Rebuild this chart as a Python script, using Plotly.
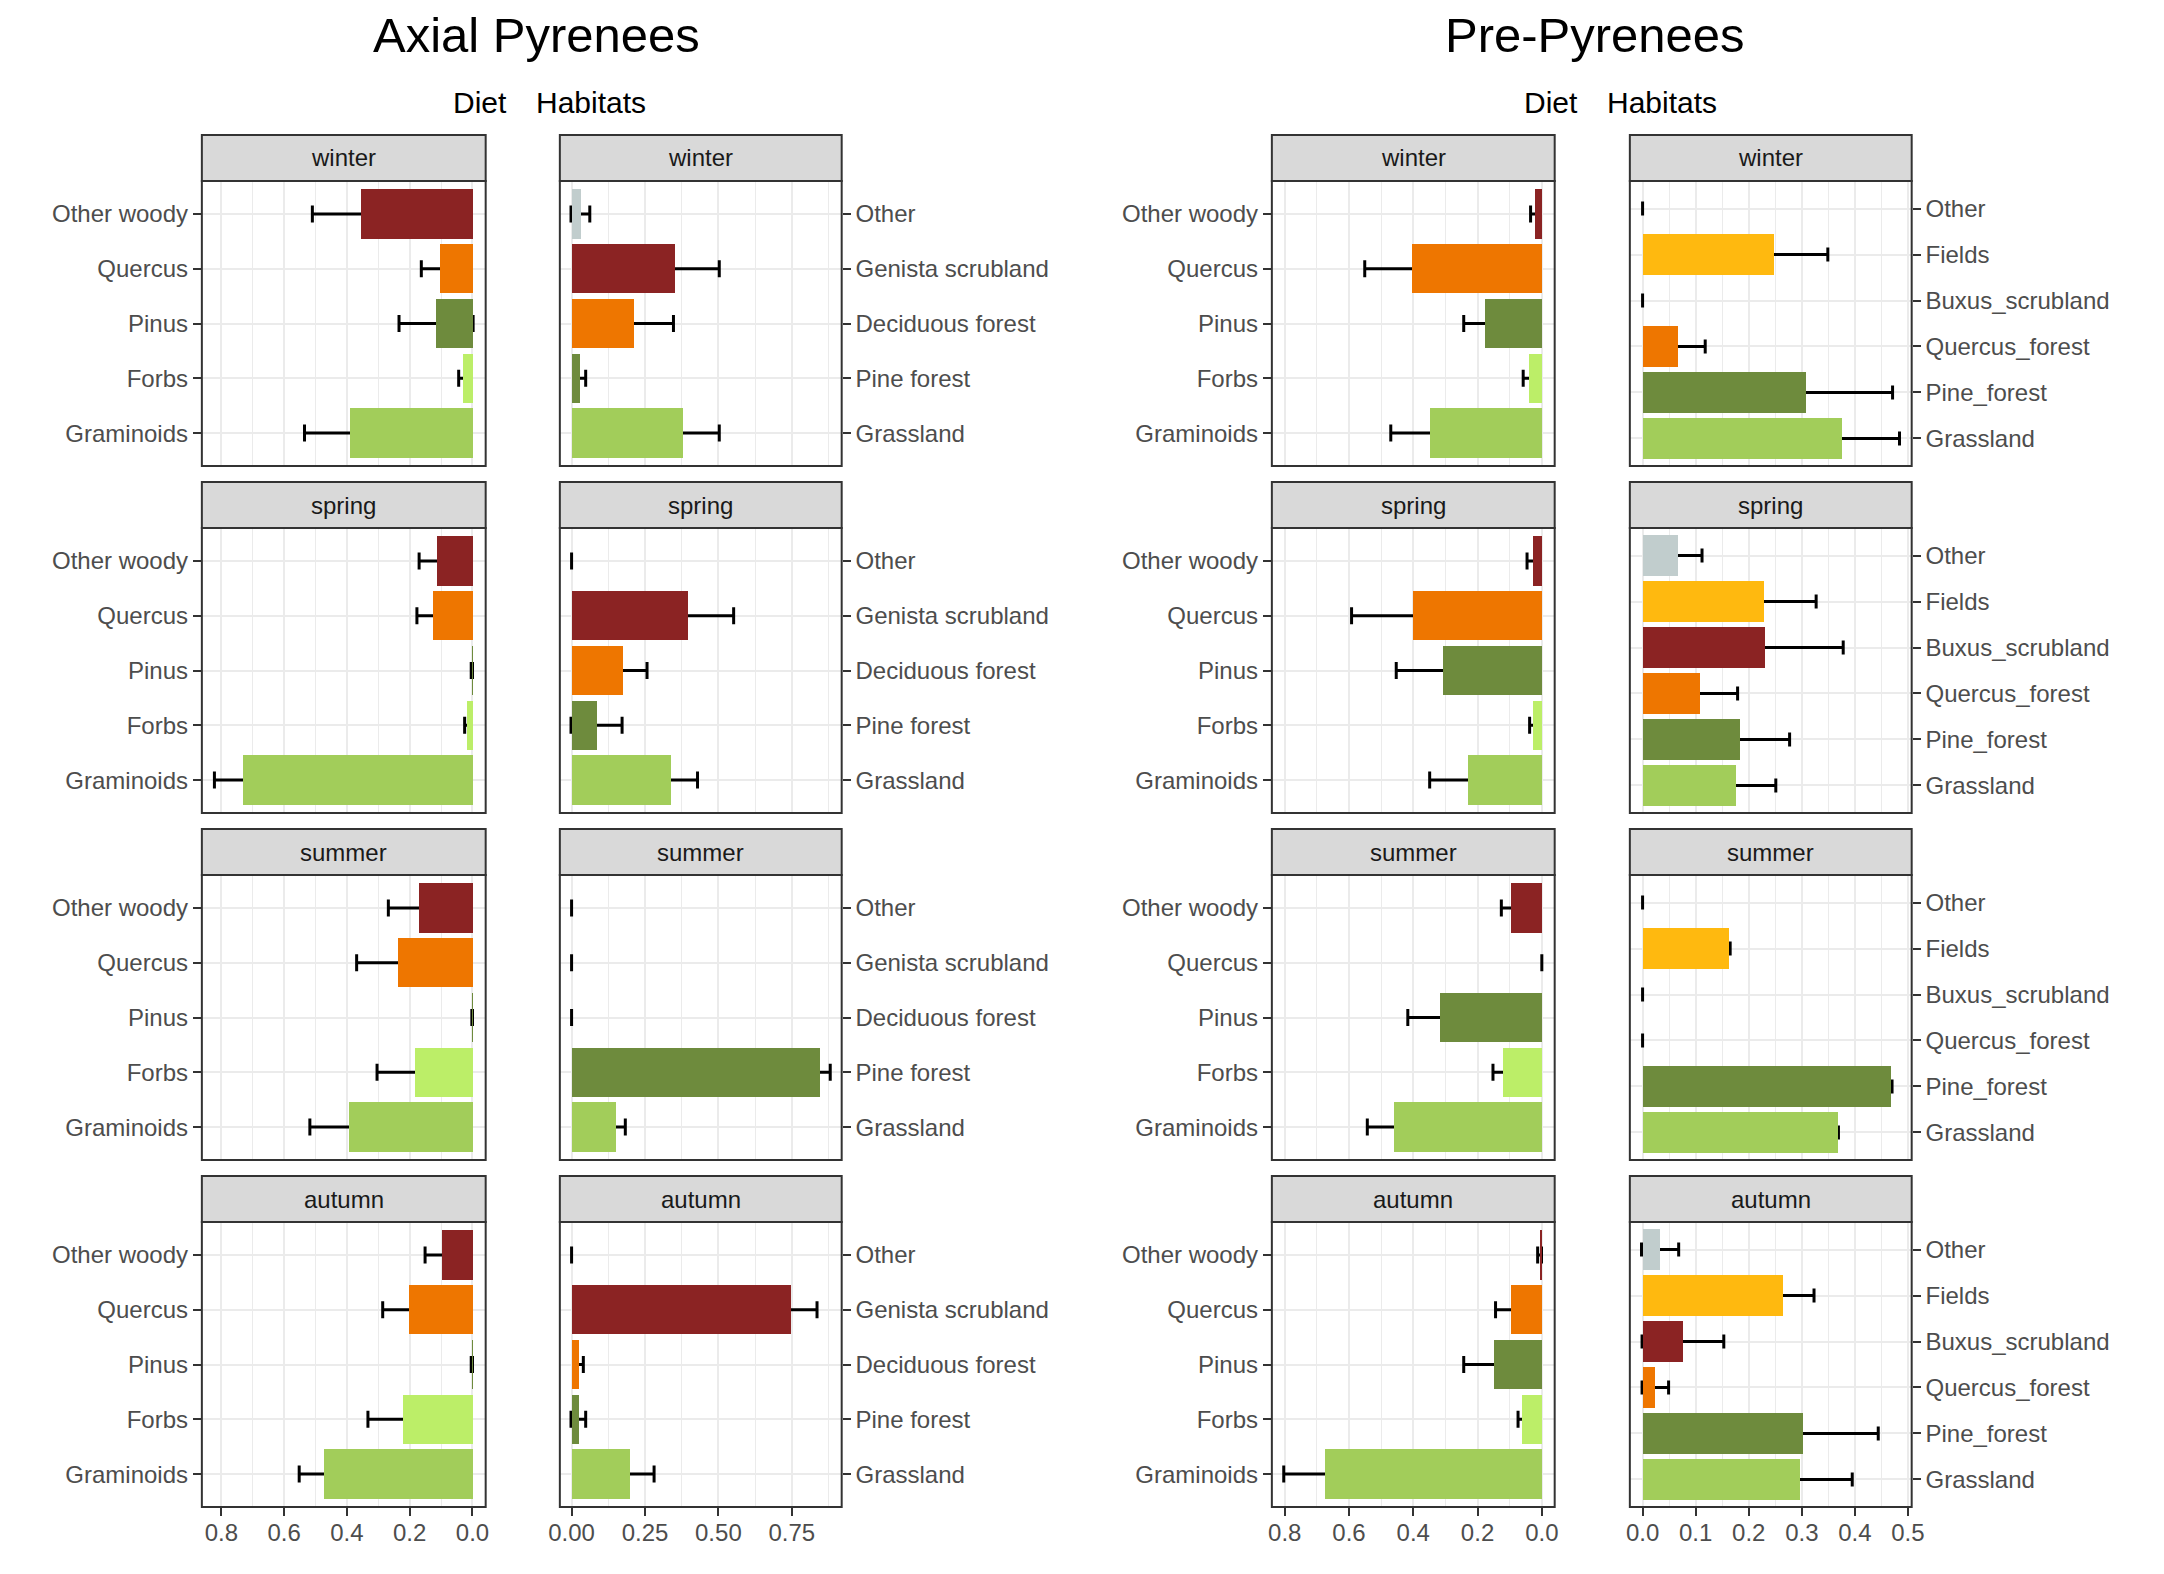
import plotly.graph_objects as go

W, H = 2164, 1574

seasons = ["winter", "spring", "summer", "autumn"]

diet_cats = ["Other woody", "Quercus", "Pinus", "Forbs", "Graminoids"]
axial_hab_cats = ["Other", "Genista scrubland", "Deciduous forest", "Pine forest", "Grassland"]
pre_hab_cats = ["Other", "Fields", "Buxus_scrubland", "Quercus_forest", "Pine_forest", "Grassland"]

diet_colors = ["#8B2323", "#EE7600", "#6E8B3D", "#BCEE68", "#A2CD5A"]
axial_hab_colors = ["#C1CDCD", "#8B2323", "#EE7600", "#6E8B3D", "#A2CD5A"]
pre_hab_colors = ["#C1CDCD", "#FFB90F", "#8B2323", "#EE7600", "#6E8B3D", "#A2CD5A"]

# Axial Pyrenees - Diet
axial_diet_mean = {
    "winter": [0.354, 0.104, 0.116, 0.031, 0.390],
    "spring": [0.114, 0.127, 0.002, 0.018, 0.731],
    "summer": [0.172, 0.237, 0.001, 0.185, 0.393],
    "autumn": [0.099, 0.203, 0.002, 0.222, 0.473],
}
axial_diet_se = {
    "winter": [0.156, 0.059, 0.118, 0.013, 0.145],
    "spring": [0.056, 0.050, 0.002, 0.007, 0.091],
    "summer": [0.096, 0.132, 0.001, 0.119, 0.125],
    "autumn": [0.052, 0.083, 0.002, 0.111, 0.079],
}

# Axial Pyrenees - Habitats
axial_hab_mean = {
    "winter": [0.030, 0.351, 0.212, 0.028, 0.380],
    "spring": [0.000, 0.395, 0.176, 0.085, 0.338],
    "summer": [0.000, 0.000, 0.000, 0.845, 0.152],
    "autumn": [0.000, 0.746, 0.025, 0.023, 0.198],
}
axial_hab_se = {
    "winter": [0.032, 0.152, 0.135, 0.020, 0.123],
    "spring": [0.000, 0.157, 0.081, 0.087, 0.091],
    "summer": [0.000, 0.000, 0.000, 0.036, 0.031],
    "autumn": [0.000, 0.090, 0.015, 0.025, 0.083],
}

# Pre-Pyrenees - Diet
pre_diet_mean = {
    "winter": [0.022, 0.403, 0.178, 0.040, 0.349],
    "spring": [0.029, 0.400, 0.309, 0.029, 0.229],
    "summer": [0.095, 0.000, 0.316, 0.122, 0.461],
    "autumn": [0.007, 0.096, 0.150, 0.063, 0.675],
}
pre_diet_se = {
    "winter": [0.013, 0.148, 0.065, 0.018, 0.121],
    "spring": [0.017, 0.192, 0.144, 0.009, 0.120],
    "summer": [0.031, 0.000, 0.101, 0.030, 0.082],
    "autumn": [0.006, 0.048, 0.093, 0.011, 0.128],
}

# Pre-Pyrenees - Habitats
pre_hab_mean = {
    "winter": [0.000, 0.248, 0.000, 0.066, 0.308, 0.376],
    "spring": [0.067, 0.228, 0.231, 0.107, 0.183, 0.175],
    "summer": [0.000, 0.162, 0.000, 0.000, 0.468, 0.367],
    "autumn": [0.033, 0.265, 0.076, 0.024, 0.301, 0.297],
}
pre_hab_se = {
    "winter": [0.000, 0.101, 0.000, 0.052, 0.163, 0.108],
    "spring": [0.045, 0.099, 0.147, 0.072, 0.094, 0.076],
    "summer": [0.000, 0.003, 0.000, 0.000, 0.002, 0.002],
    "autumn": [0.035, 0.058, 0.077, 0.025, 0.143, 0.098],
}

panels = [
    dict(cats=diet_cats, colors=diet_colors, mean=axial_diet_mean, se=axial_diet_se,
         px=(193, 480), rng=[0.862, -0.042], dtick=0.2, minor=0.1, fmt=".1f", side="left", cap=8.5),
    dict(cats=axial_hab_cats, colors=axial_hab_colors, mean=axial_hab_mean, se=axial_hab_se,
         px=(555, 840), rng=[-0.040, 0.920], dtick=0.25, minor=0.125, fmt=".2f", side="right", cap=8.5),
    dict(cats=diet_cats, colors=diet_colors, mean=pre_diet_mean, se=pre_diet_se,
         px=(1275, 1561), rng=[0.840, -0.040], dtick=0.2, minor=0.1, fmt=".1f", side="left", cap=8.5),
    dict(cats=pre_hab_cats, colors=pre_hab_colors, mean=pre_hab_mean, se=pre_hab_se,
         px=(1637, 1922), rng=[-0.024, 0.507], dtick=0.1, minor=0.05, fmt=".1f", side="right", cap=7),
]

FONT = "Liberation Sans, Arial, sans-serif"
ROW_PITCH = 347
STRIP_TOP = 135
STRIP_H = 46
PANEL_BOTTOM = 466

fig = go.Figure()
layout = {}
shapes = []
annotations = []

for r, season in enumerate(seasons):
    strip_top = STRIP_TOP + ROW_PITCH * r
    strip_bot = strip_top + STRIP_H
    pan_bot = PANEL_BOTTOM + ROW_PITCH * r
    for p, pan in enumerate(panels):
        k = r * 4 + p + 1
        xa = "x" if k == 1 else f"x{k}"
        ya = "y" if k == 1 else f"y{k}"
        xname = "xaxis" if k == 1 else f"xaxis{k}"
        yname = "yaxis" if k == 1 else f"yaxis{k}"
        cats = pan["cats"]
        n = len(cats)
        mean = pan["mean"][season]
        se = pan["se"][season]

        fig.add_trace(go.Scatter(
            x=mean, y=cats, mode="markers",
            marker=dict(size=1, color="rgba(0,0,0,0)"),
            error_x=dict(type="data", array=se, symmetric=True, color="black",
                         thickness=3, width=pan["cap"]),
            xaxis=xa, yaxis=ya, showlegend=False, hoverinfo="skip", zorder=0,
        ))
        fig.add_trace(go.Bar(
            x=mean, y=cats, orientation="h", width=0.9,
            marker=dict(color=pan["colors"], line=dict(width=0)),
            xaxis=xa, yaxis=ya, showlegend=False, zorder=1,
        ))

        x0, x1 = pan["px"]
        bottom_row = (r == len(seasons) - 1)
        layout[xname] = dict(
            domain=[x0 / W, x1 / W], anchor=ya, range=pan["rng"],
            tick0=0, dtick=pan["dtick"], tickformat=pan["fmt"],
            showgrid=True, gridcolor="#EBEBEB", gridwidth=2,
            minor=dict(dtick=pan["minor"], tick0=0, showgrid=True,
                       gridcolor="#EBEBEB", gridwidth=1, ticks=""),
            zeroline=False, showline=False,
            ticks="outside" if bottom_row else "", ticklen=8, tickwidth=2,
            tickcolor="#333333", showticklabels=bottom_row,
            ticklabelstandoff=-4,
            tickfont=dict(family=FONT, size=24, color="#4D4D4D"),
        )
        layout[yname] = dict(
            domain=[1 - pan_bot / H, 1 - strip_bot / H], anchor=xa,
            type="category", categoryorder="array",
            categoryarray=list(reversed(cats)), range=[-0.6, n - 0.4],
            side=pan["side"], showgrid=True, gridcolor="#EBEBEB", gridwidth=2,
            zeroline=False, showline=False,
            ticks="outside", ticklen=8, tickwidth=2, tickcolor="#333333",
            tickfont=dict(family=FONT, size=24, color="#4D4D4D"),
        )

        # panel border
        shapes.append(dict(
            type="rect", xref="paper", yref="paper",
            x0=x0 / W, x1=x1 / W, y0=1 - pan_bot / H, y1=1 - strip_bot / H,
            fillcolor="rgba(0,0,0,0)", line=dict(color="#333333", width=2), layer="above",
        ))
        # strip
        shapes.append(dict(
            type="rect", xref="paper", yref="paper",
            x0=x0 / W, x1=x1 / W, y0=1 - strip_bot / H, y1=1 - strip_top / H,
            fillcolor="#D9D9D9", line=dict(color="#333333", width=2), layer="above",
        ))
        annotations.append(dict(
            text=season, xref="paper", yref="paper",
            x=(x0 + x1) / 2 / W, y=1 - (strip_top + STRIP_H / 2) / H,
            xanchor="center", yanchor="middle", showarrow=False,
            font=dict(family=FONT, size=24, color="#1A1A1A"),
        ))

titles = [("Axial Pyrenees", 531), ("Pre-Pyrenees", 1602)]
for txt, cx in titles:
    annotations.append(dict(
        text=txt, xref="paper", yref="paper", x=cx / W, y=1 - 35 / H,
        xanchor="center", yanchor="middle", showarrow=False,
        font=dict(family=FONT, size=49, color="black"),
    ))

subtitles = [("Diet", 474), ("Habitats", 587), ("Diet", 1557), ("Habitats", 1670)]
for txt, cx in subtitles:
    annotations.append(dict(
        text=txt, xref="paper", yref="paper", x=cx / W, y=1 - 103 / H,
        xanchor="center", yanchor="middle", showarrow=False,
        font=dict(family=FONT, size=30, color="black"),
    ))

fig.update_layout(
    width=W, height=H, margin=dict(l=0, r=0, t=0, b=0),
    paper_bgcolor="white", plot_bgcolor="white",
    showlegend=False, shapes=shapes, annotations=annotations,
    bargap=0, **layout,
)

fig.write_html("out.html")
